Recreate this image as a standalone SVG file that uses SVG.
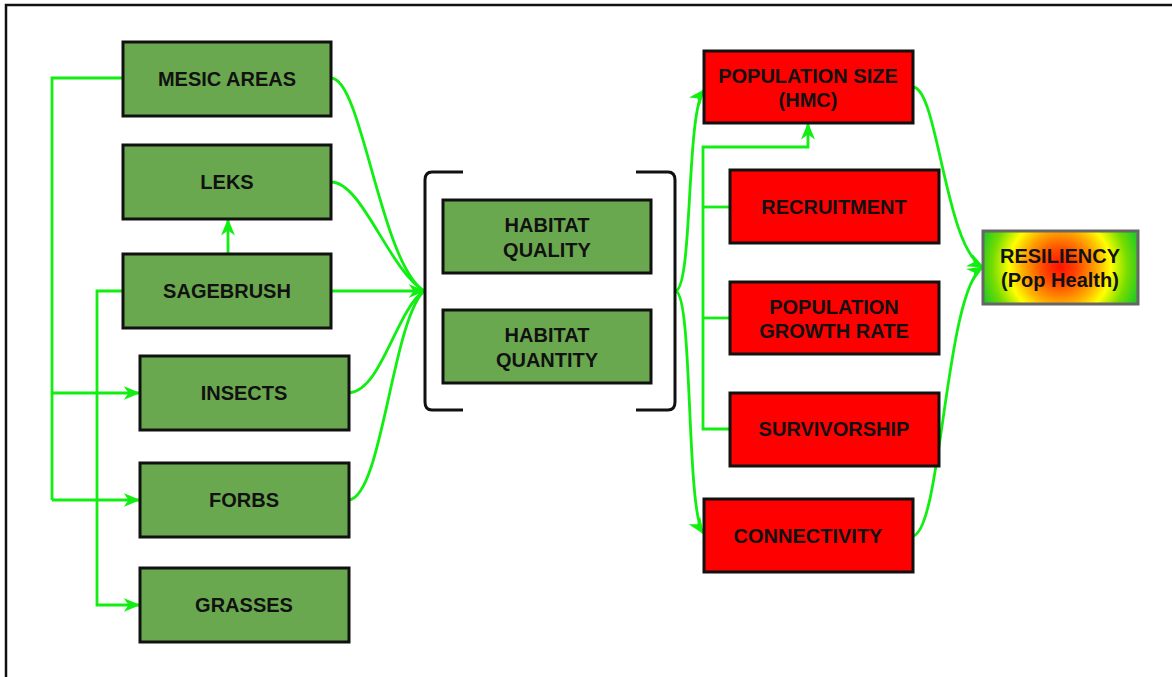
<svg xmlns="http://www.w3.org/2000/svg" width="1172" height="677" viewBox="0 0 1172 677">
<style>
.g{fill:#6aa84f;stroke:#111;stroke-width:3}
.r{fill:#ff0000;stroke:#111;stroke-width:3}
.t{font-family:"Liberation Sans",Arial,sans-serif;font-weight:bold;font-size:20px;fill:#111;text-anchor:middle}
.c{fill:none;stroke:#11ee11;stroke-width:2.8}
.br{fill:none;stroke:#111;stroke-width:3}
</style>
<defs>
<marker id="ah" viewBox="0 0 12 10" refX="11" refY="5" markerWidth="17" markerHeight="14" markerUnits="userSpaceOnUse" orient="auto">
<path d="M0,0 L12,5 L0,10 L3.5,5 z" fill="#11ee11"/>
</marker>
<radialGradient id="res" gradientUnits="userSpaceOnUse" cx="1060" cy="267" r="82">
<stop offset="0" stop-color="#ff1100"/>
<stop offset="0.2" stop-color="#ff4400"/>
<stop offset="0.45" stop-color="#ffaa00"/>
<stop offset="0.62" stop-color="#ffff00"/>
<stop offset="0.82" stop-color="#77dd00"/>
<stop offset="1" stop-color="#22cc22"/>
</radialGradient>
</defs>
<rect width="1172" height="677" fill="#fff"/>
<path d="M6,677 L6,5 L1172,5" fill="none" stroke="#111" stroke-width="2.5"/>
<g id="connectors">
<path class="c" d="M123,78 L52,78 L52,500"/>
<path class="c" d="M52,393 L139,393" marker-end="url(#ah)"/>
<path class="c" d="M52,500 L139,500" marker-end="url(#ah)"/>
<path class="c" d="M123,291 L97,291 L97,605 L139,605" marker-end="url(#ah)"/>
<path class="c" d="M228,254 L228,220" marker-end="url(#ah)"/>
<path class="c" d="M331,78 C362,78 380,262 424,291"/>
<path class="c" d="M331,182 C362,182 388,268 424,291"/>
<path class="c" d="M331,291 L424,291" marker-end="url(#ah)"/>
<path class="c" d="M349,393 C382,390 396,310 424,291"/>
<path class="c" d="M349,500 C382,496 392,322 424,291"/>
<path class="c" d="M676,291 C693,284 686,112 704,90" marker-end="url(#ah)"/>
<path class="c" d="M676,291 C693,298 686,508 703,533" marker-end="url(#ah)"/>
<path class="c" d="M730,429 L703,429 L703,147 L808,147 L808,124" marker-end="url(#ah)"/>
<path class="c" d="M703,207 L730,207"/>
<path class="c" d="M703,318 L730,318"/>
<path class="c" d="M913,87 C938,88 945,248 983,267" marker-end="url(#ah)"/>
<path class="c" d="M913,536 C942,530 945,290 983,267" marker-end="url(#ah)"/>
</g>
<g id="brackets">
<path class="br" d="M463,172 L432,172 Q425,172 425,180 L425,402 Q425,410 432,410 L463,410"/>
<path class="br" d="M636,172 L668,172 Q675,172 675,180 L675,402 Q675,410 668,410 L636,410"/>
</g>
<g id="mesic"><rect class="g" x="123" y="42" width="208" height="74"/><text class="t" x="227" y="86">MESIC AREAS</text></g>
<g id="leks"><rect class="g" x="123" y="145" width="208" height="74"/><text class="t" x="227" y="189">LEKS</text></g>
<g id="sagebrush"><rect class="g" x="123" y="254" width="208" height="74"/><text class="t" x="227" y="298">SAGEBRUSH</text></g>
<g id="insects"><rect class="g" x="140" y="356" width="209" height="74"/><text class="t" x="244" y="400">INSECTS</text></g>
<g id="forbs"><rect class="g" x="140" y="463" width="209" height="74"/><text class="t" x="244" y="507">FORBS</text></g>
<g id="grasses"><rect class="g" x="140" y="568" width="209" height="74"/><text class="t" x="244" y="612">GRASSES</text></g>
<g id="quality"><rect class="g" x="443" y="200" width="208" height="73"/><text class="t" x="547" y="232">HABITAT</text><text class="t" x="547" y="257">QUALITY</text></g>
<g id="quantity"><rect class="g" x="443" y="310" width="208" height="73"/><text class="t" x="547" y="342">HABITAT</text><text class="t" x="547" y="367">QUANTITY</text></g>
<g id="popsize"><rect class="r" x="704" y="51" width="209" height="72"/><text class="t" x="808" y="83">POPULATION SIZE</text><text class="t" x="808" y="107">(HMC)</text></g>
<g id="recruitment"><rect class="r" x="730" y="170" width="209" height="73"/><text class="t" x="834" y="214">RECRUITMENT</text></g>
<g id="growth"><rect class="r" x="730" y="282" width="209" height="72"/><text class="t" x="834" y="314">POPULATION</text><text class="t" x="834" y="338">GROWTH RATE</text></g>
<g id="survivorship"><rect class="r" x="730" y="393" width="209" height="73"/><text class="t" x="834" y="436">SURVIVORSHIP</text></g>
<g id="connectivity"><rect class="r" x="704" y="499" width="209" height="73"/><text class="t" x="808" y="543">CONNECTIVITY</text></g>
<g id="resiliency"><rect x="983" y="231" width="155" height="73" fill="url(#res)" stroke="#666" stroke-width="3"/><text class="t" x="1060" y="263">RESILIENCY</text><text class="t" x="1060" y="287">(Pop Health)</text></g>
</svg>
